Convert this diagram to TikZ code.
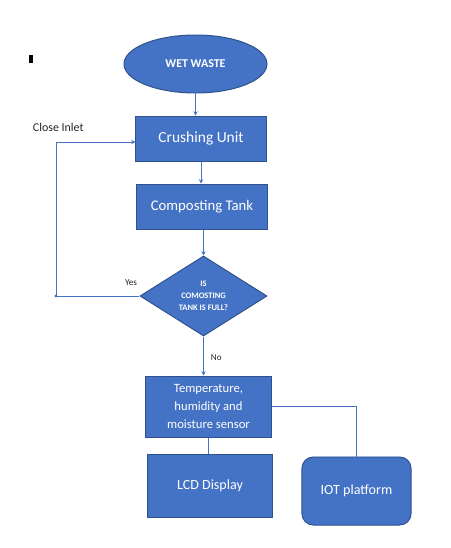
\documentclass[tikz,border=0pt]{standalone}
\usepackage{fontspec}
\setmainfont{Carlito}
\usepackage{tikz}
\usetikzlibrary{shapes.geometric,arrows.meta}
\definecolor{officeblue}{HTML}{4472C4}
\definecolor{edgeblue}{HTML}{2F528F}

\begin{document}
\begin{tikzpicture}[x=0.025cm,y=-0.025cm,
        block/.style={draw=edgeblue,fill=officeblue,line width=0.7pt,text=white,align=center,inner sep=0pt},
        flow/.style={draw=officeblue,line width=0.6pt},
        arr/.style={flow,-{Stealth[length=3pt,width=3pt]}},
        tag/.style={text=black!85,font=\fontsize{8.5}{10}\selectfont}]
        \useasboundingbox (0,0) rectangle (450,548);

        % black mark top left
        \fill[black] (29,55) rectangle (33,63);

        \node[ellipse,block,minimum width=3.575cm,minimum height=1.45cm,font=\fontsize{8.5}{10}\selectfont\bfseries] (waste) at (195.5,64) {WET WASTE};
        \node[rectangle,block,minimum width=3.25cm,minimum height=1.125cm,font=\fontsize{11}{13}\selectfont] (crush) at (201,138.5) {Crushing Unit};
        \node[rectangle,block,minimum width=3.25cm,minimum height=1.125cm,font=\fontsize{10.5}{13}\selectfont] (tank) at (202,206.5) {Composting Tank};
        \node[diamond,block,shape aspect=1.59,minimum width=3.175cm,minimum height=2cm,font=\fontsize{6}{8.5}\selectfont\bfseries] (check) at (203.5,296) {IS\\COMOSTING\\TANK IS FULL?};
        \node[rectangle,block,minimum width=3.125cm,minimum height=1.525cm,font=\fontsize{9}{12.5}\selectfont] (sensor) at (208.5,406.5) {Temperature,\\humidity and\\moisture sensor};
        \node[rectangle,block,minimum width=3.1cm,minimum height=1.575cm,font=\fontsize{10}{12}\selectfont] (lcd) at (210,485.5) {LCD Display};
        \node[rectangle,block,rounded corners=8pt,minimum width=2.725cm,minimum height=1.7cm,font=\fontsize{10}{12}\selectfont] (iot) at (356.5,491) {IOT platform};

        % main flow
        \draw[arr] (waste.south) -- (waste.south |- crush.north);
        \draw[arr] (crush.south) -- (crush.south |- tank.north);
        \draw[arr] (check.north |- tank.south) -- (check.north);
        \draw[arr] (check.south) -- (check.south |- sensor.north);
        \draw[flow] (sensor.south) -- (sensor.south |- lcd.north);
        \draw[flow] (sensor.east) -| (iot.north);

        % loop back when full
        \coordinate (loopbot) at (56,296);
        \coordinate (looptop) at (56,142);
        \draw[arr] (check.west) -- (loopbot) -- (looptop) -- (crush.west |- looptop);
        \fill[officeblue] (loopbot) circle (1.2pt);

        \node[tag,anchor=south west] (inlet) at (28,137) {Close Inlet};
        \node[tag,font=\fontsize{6.5}{8}\selectfont] (yes) at (131,283) {Yes};
        \node[tag,font=\fontsize{6.5}{8}\selectfont,anchor=west] (no) at (206,358) {No};
    \end{tikzpicture}
\end{document}
